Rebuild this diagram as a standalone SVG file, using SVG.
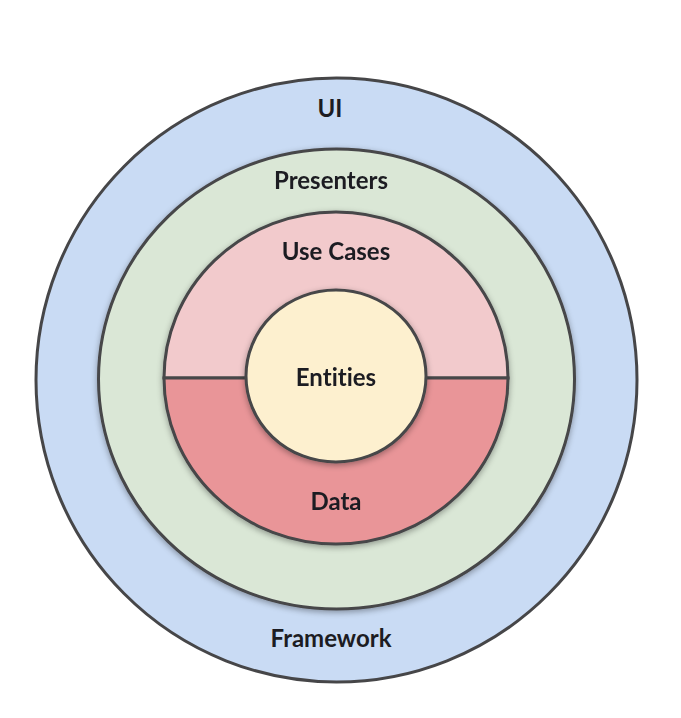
<svg xmlns="http://www.w3.org/2000/svg" width="681" height="718" viewBox="0 0 681 718">
<style>
.ring{stroke:#464648;stroke-width:3}
.lbl{font-family:Lato,"Liberation Sans",sans-serif;font-weight:bold;font-size:24px;fill:#1c1c22;text-anchor:middle;font-variant-ligatures:none}
</style>
<defs>
<filter id="sh" x="-10%" y="-10%" width="120%" height="120%">
<feGaussianBlur in="SourceAlpha" stdDeviation="3"/>
<feOffset dy="2"/>
<feComponentTransfer><feFuncA type="linear" slope="0.35"/></feComponentTransfer>
<feMerge><feMergeNode/><feMergeNode in="SourceGraphic"/></feMerge>
</filter>
</defs>
<rect width="681" height="718" fill="#ffffff"/>
<g id="framework">
<ellipse class="ring" cx="336.5" cy="380" rx="300.5" ry="302" fill="#c9dbf4"/>
<text class="lbl" x="330" y="117">UI</text>
<text class="lbl" x="331" y="647">Framework</text>
</g>
<g id="presenters" filter="url(#sh)">
<ellipse class="ring" cx="336.5" cy="379" rx="238" ry="230" fill="#dae7d6"/>
<text class="lbl" x="331" y="189">Presenters</text>
</g>
<g id="usecases-data" filter="url(#sh)">
<path class="ring" d="M164,378 A172,166 0 0 1 508,378 Z" fill="#f2cacc"/>
<path class="ring" d="M164,378 A172,166 0 0 0 508,378 Z" fill="#e99598"/>
<text class="lbl" x="336" y="260">Use Cases</text>
<text class="lbl" x="336" y="510">Data</text>
</g>
<g id="entities" filter="url(#sh)">
<ellipse class="ring" cx="336" cy="376" rx="90" ry="86" fill="#fdf0cf"/>
<text class="lbl" x="336" y="386">Entities</text>
</g>
<g id="connectors"/>
</svg>
